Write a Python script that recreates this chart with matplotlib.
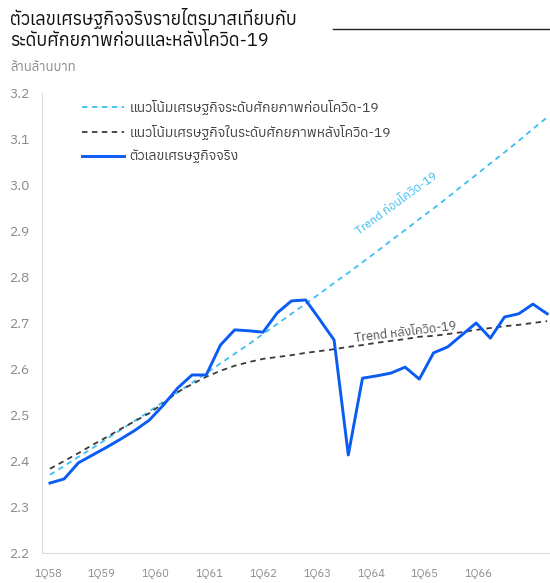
import matplotlib
matplotlib.use("Agg")
import matplotlib.pyplot as plt
import numpy as np

plt.rcParams["font.family"] = ["Anuphan", "Noto Sans Thai", "DejaVu Sans"]

quarters = ["1Q58", "1Q59", "1Q60", "1Q61", "1Q62", "1Q63", "1Q64", "1Q65", "1Q66"]

# real GDP, trillion baht, 1Q58 .. 4Q66
actual = [2.352, 2.361, 2.396, 2.413, 2.430, 2.448, 2.467, 2.489, 2.522, 2.559,
          2.587, 2.587, 2.652, 2.685, 2.683, 2.680, 2.722, 2.748, 2.750, 2.707,
          2.663, 2.413, 2.580, 2.585, 2.591, 2.604, 2.578, 2.635, 2.648, 2.674,
          2.700, 2.667, 2.713, 2.720, 2.741, 2.720]
pre_trend = [2.370, 2.389, 2.409, 2.428, 2.448, 2.468, 2.488, 2.508, 2.529, 2.549,
             2.570, 2.591, 2.612, 2.633, 2.654, 2.676, 2.698, 2.720, 2.742, 2.764,
             2.787, 2.809, 2.832, 2.855, 2.879, 2.902, 2.926, 2.949, 2.973, 2.998,
             3.022, 3.047, 3.071, 3.096, 3.122, 3.147]
post_trend = [2.383, 2.400, 2.417, 2.435, 2.452, 2.470, 2.487, 2.504, 2.526, 2.550,
              2.567, 2.583, 2.596, 2.607, 2.615, 2.622, 2.626, 2.630, 2.635, 2.639,
              2.643, 2.648, 2.652, 2.657, 2.661, 2.665, 2.670, 2.672, 2.676, 2.680,
              2.685, 2.689, 2.693, 2.696, 2.700, 2.704]

BLUE = "#0a5cf5"
SKY = "#3cbff0"
DARK = "#3a3a3a"
GREY = "#8a8a8a"

fig = plt.figure(figsize=(5.5, 5.83), dpi=100)
ax = fig.add_axes([0.0764, 0.0515, 0.9236, 0.789])
x = np.arange(len(actual))

ax.plot(x, pre_trend, color=SKY, lw=1.3, ls=(0, (3, 2.5)),
        label="แนวโน้มเศรษฐกิจระดับศักยภาพก่อนโควิด-19")
ax.plot(x, post_trend, color=DARK, lw=1.3, ls=(0, (3, 2.5)),
        label="แนวโน้มเศรษฐกิจในระดับศักยภาพหลังโควิด-19")
ax.plot(x, actual, color=BLUE, lw=2.1, label="ตัวเลขเศรษฐกิจจริง")

ax.set_xlim(-0.56, 35.2)
ax.set_ylim(2.2, 3.2)
yt = np.arange(2.2, 3.21, 0.1)
ax.set_yticks(yt)
ax.set_yticklabels([f"{v:.1f}" for v in yt])
# labels in the source are spaced a little under 4 quarters apart
ax.set_xticks(np.arange(len(quarters)) * 3.79 - 0.14)
ax.set_xticklabels(quarters)
ax.tick_params(length=0, colors=GREY)
ax.tick_params(axis="y", pad=9, labelsize=10)
ax.tick_params(axis="x", pad=11, labelsize=8)
for s in ["top", "right"]:
    ax.spines[s].set_visible(False)
for s in ["left", "bottom"]:
    ax.spines[s].set_color("#dcdcdc")

ax.text(24.4, 2.96, "Trend ก่อนโควิด-19", color=SKY, fontsize=8.5,
        rotation=36, ha="center", va="center", fontweight="bold")
ax.text(25.0, 2.68, "Trend หลังโควิด-19", color="#555555", fontsize=9,
        rotation=7, ha="center", va="center")

leg = ax.legend(loc="upper left", bbox_to_anchor=(0.055, 1.013), frameon=False,
                fontsize=10, handlelength=3.0, labelspacing=0.72, handletextpad=0.4)
for t in leg.get_texts():
    t.set_color("#444444")

fig.text(0.018, 0.987, "ตัวเลขเศรษฐกิจจริงรายไตรมาสเทียบกับ\nระดับศักยภาพก่อนและหลังโควิด-19",
         fontsize=13, va="top", ha="left", color="#111111", linespacing=1.25)
fig.lines.append(plt.Line2D([0.605, 1.0], [0.95, 0.95], transform=fig.transFigure,
                            color="#222222", lw=1.0))
fig.text(0.018, 0.885, "ล้านล้านบาท", fontsize=9.5, color=GREY, va="center")

fig.savefig("out.png", dpi=100)
